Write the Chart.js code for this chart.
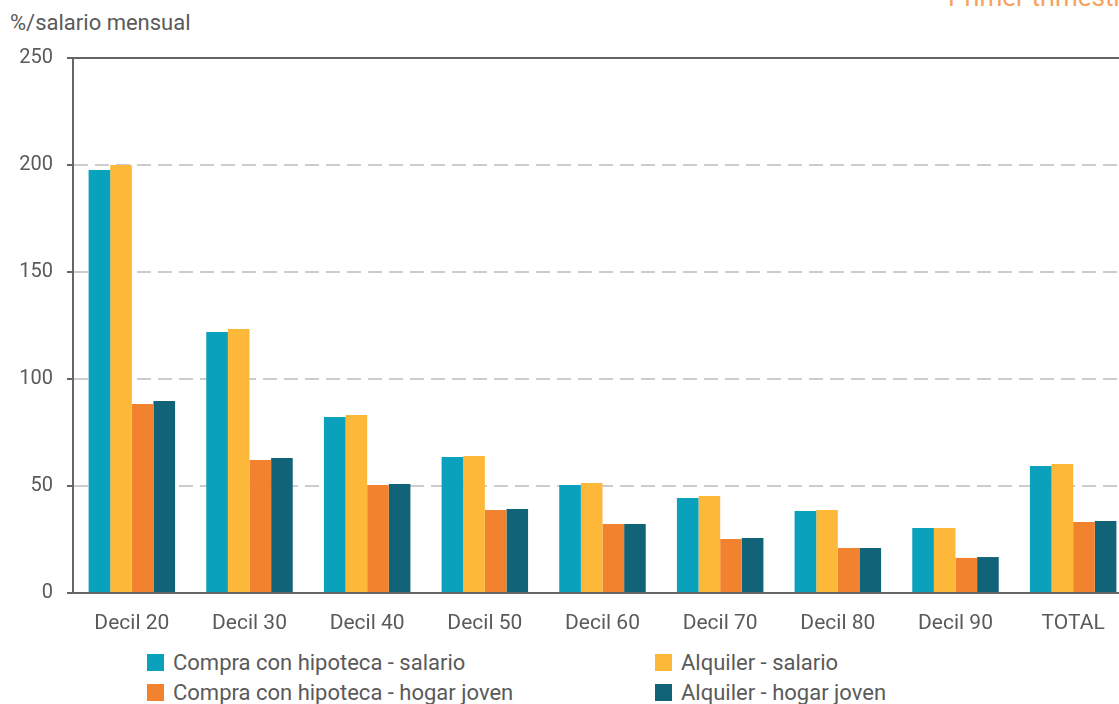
<!DOCTYPE html>
<html>
<head>
<meta charset="utf-8">
<script src="https://cdn.jsdelivr.net/npm/chart.js@4.4.1/dist/chart.umd.min.js"></script>
<style>
  html, body { margin: 0; padding: 0; background: #fff; overflow: hidden; }
  body { width: 1119px; height: 704px; position: relative; font-family: Roboto, "Noto Sans", sans-serif; color: #5a5a5a; }
  #wrap { position: absolute; left: 0; top: 0; width: 1138px; height: 640px; }
  #unit { position: absolute; left: 10px; top: 10px; font-size: 22px; }
  #period { position: absolute; left: 948px; top: -18px; font-size: 26px; color: #f6a25c; white-space: nowrap; }
  .legend { position: absolute; font-size: 22px; white-space: nowrap; }
  .legend span.box { display: inline-block; width: 17px; height: 17px; vertical-align: -1px; margin-right: 9px; }
</style>
</head>
<body>
<div id="unit">%/salario mensual</div>
<div id="period">Primer trimestre</div>
<div id="wrap"><canvas id="chart" width="1138" height="640"></canvas></div>
<div id="legend"></div>
<script>
// Chart data
const categories = ["Decil 20", "Decil 30", "Decil 40", "Decil 50", "Decil 60", "Decil 70", "Decil 80", "Decil 90", "TOTAL"];
const compraSalario = [197.7, 122.0, 82.2, 63.5, 50.5, 44.4, 38.3, 30.4, 59.3];
const alquilerSalario = [200.0, 123.4, 83.2, 64.0, 51.4, 45.3, 38.8, 30.4, 60.3];
const compraJoven = [88.3, 62.1, 50.5, 38.8, 32.2, 25.2, 21.0, 16.4, 33.2];
const alquilerJoven = [89.7, 63.1, 50.9, 39.3, 32.2, 25.7, 21.0, 16.8, 33.6];
const seriesNames = ["Compra con hipoteca - salario", "Alquiler - salario", "Compra con hipoteca - hogar joven", "Alquiler - hogar joven"];
const colors = ["#0aa1bc", "#fdb83a", "#f3822f", "#116378"];

const axisColor = "#666666";
const tickFont = { family: "Roboto, 'Noto Sans', sans-serif", size: 20 };
const catFont = { family: "Roboto, 'Noto Sans', sans-serif", size: 21 };

new Chart(document.getElementById("chart"), {
  type: "bar",
  data: {
    labels: categories,
    datasets: [compraSalario, alquilerSalario, compraJoven, alquilerJoven].map((d, i) => ({
      label: seriesNames[i],
      data: d,
      backgroundColor: colors[i],
      borderWidth: 0,
      barPercentage: 1,
      categoryPercentage: 0.735,
    })),
  },
  options: {
    responsive: false,
    animation: false,
    layout: { padding: { top: 58, right: 6, left: 0, bottom: 0 } },
    plugins: {
      legend: { display: false },
      tooltip: { enabled: false },
    },
    scales: {
      x: {
        grid: { display: false },
        border: { display: true, color: axisColor, width: 2 },
        ticks: { color: "#5a5a5a", font: catFont, padding: 10, maxRotation: 0 },
        afterFit: (s) => { s.height = 47; },
      },
      y: {
        min: 0,
        max: 250,
        ticks: { stepSize: 50, color: "#5a5a5a", font: tickFont, padding: 14 },
        grid: {
          color: (ctx) => (ctx.tick && (ctx.tick.value === 250) ? axisColor : "#cccccc"),
          lineWidth: 2,
          tickLength: 6,
          tickColor: axisColor,
          tickWidth: 2,
        },
        border: {
          display: true,
          color: axisColor,
          width: 2,
          dash: (ctx) => (ctx.tick && (ctx.tick.value === 250 || ctx.tick.value === 0) ? [] : [14, 7]),
        },
        afterFit: (s) => { s.width = 73; },
      },
    },
  },
});

// Legend in two columns
const legendPos = [
  { left: 147, top: 650 },
  { left: 655, top: 650 },
  { left: 147, top: 680 },
  { left: 655, top: 680 },
];
const legendEl = document.getElementById("legend");
seriesNames.forEach((name, i) => {
  const item = document.createElement("div");
  item.className = "legend";
  item.style.left = legendPos[i].left + "px";
  item.style.top = legendPos[i].top + "px";
  item.innerHTML = `<span class="box" style="background:${colors[i]}"></span>${name}`;
  legendEl.appendChild(item);
});
</script>
</body>
</html>
